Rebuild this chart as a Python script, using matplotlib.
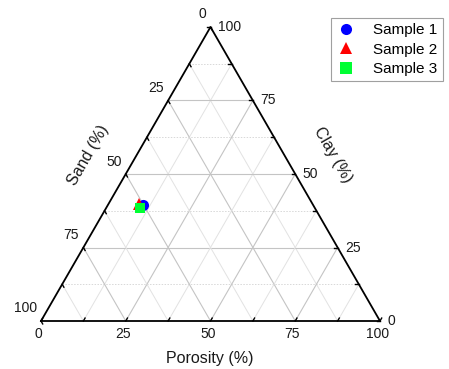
import numpy as np
import matplotlib
matplotlib.use("Agg")
import matplotlib.pyplot as plt

plt.rcParams["font.family"] = ["Liberation Sans", "DejaVu Sans"]

# sample compositions (%)
samples = ["Sample 1", "Sample 2", "Sample 3"]
porosity = [10.4, 9.2, 10.1]
sand = [50.1, 51.1, 51.6]
clay = [39.5, 39.7, 38.3]
markers = ["o", "^", "s"]
colors = ["#0000ff", "#ff0000", "#00ff33"]
sizes = [8, 8, 7]

tick_vals = [0, 25, 50, 75, 100]
grid_step = 12.5

H = np.sqrt(3) / 2


def to_xy(p, c):
    # porosity -> bottom-right, clay -> top, sand -> bottom-left
    p = np.asarray(p, dtype=float)
    c = np.asarray(c, dtype=float)
    return p + c / 2, c * H


W, Hpx = 449, 369
fig = plt.figure(figsize=(W / 100, Hpx / 100), dpi=100)
ax = fig.add_axes([41 / W, 48 / Hpx, 339 / W, 294 / Hpx])
ax.set_xlim(0, 100)
ax.set_ylim(0, 100 * H)
ax.axis("off")

# grid
for v in np.arange(grid_step, 100, grid_step):
    major = abs(v % 25) < 1e-9
    if major:
        kw = dict(color="#c4c4c4", lw=0.8)
        kh = kw
    else:
        kw = dict(color="#e2e2e2", lw=0.7)
        kh = dict(color="#d8d8d8", lw=0.7, ls=(0, (1.5, 1.5)))
    # constant porosity
    x, y = to_xy([v, v], [0, 100 - v])
    ax.plot(x, y, zorder=1, **kw)
    # constant clay
    x, y = to_xy([0, 100 - v], [v, v])
    ax.plot(x, y, zorder=1, **kh)
    # constant sand
    x, y = to_xy([100 - v, 0], [0, 100 - v])
    ax.plot(x, y, zorder=1, **kw)

# frame
x, y = to_xy([0, 100, 0, 0], [0, 0, 100, 0])
ax.plot(x, y, color="black", lw=1.3, zorder=3, clip_on=False, solid_joinstyle="miter")

# ticks along grid directions
tl = 1.0
for v in np.arange(0, 100.01, grid_step):
    x, y = to_xy([v, v], [0, tl])
    ax.plot(x, y, color="black", lw=1.0, zorder=3, clip_on=False)
    x, y = to_xy([100 - v, 100 - v - tl], [v, v])
    ax.plot(x, y, color="black", lw=1.0, zorder=3, clip_on=False)
    x, y = to_xy([0, tl], [100 - v, 100 - v - tl])
    ax.plot(x, y, color="black", lw=1.0, zorder=3, clip_on=False)

fs_tick = 10
for v in tick_vals:
    # porosity (bottom)
    x, y = to_xy(v, 0)
    ax.annotate(str(v), (x, y), xytext=(-2, -9), textcoords="offset points",
                ha="center", va="center", fontsize=fs_tick, color="#1a1a1a")
    # clay (right)
    x, y = to_xy(100 - v, v)
    ax.annotate(str(v), (x, y), xytext=(5.5, 0), textcoords="offset points",
                ha="left", va="center", fontsize=fs_tick, color="#1a1a1a")
    # sand (left)
    x, y = to_xy(0, 100 - v)
    ax.annotate(str(v), (x, y), xytext=(-3, 9), textcoords="offset points",
                ha="right", va="center", fontsize=fs_tick, color="#1a1a1a")

# data
for name, p, c, m, col, ms in zip(samples, porosity, clay, markers, colors, sizes):
    x, y = to_xy(p, c)
    ax.plot(x, y, marker=m, color=col, ms=ms, ls="none", label=name, zorder=5,
            markeredgewidth=0)

# axis titles
fs_title = 11.5
fig.text(210 / W, 1 - 358 / Hpx, "Porosity (%)", ha="center", va="center", fontsize=fs_title, color="#1a1a1a")
fig.text(88 / W, 1 - 155 / Hpx, "Sand (%)", ha="center", va="center", rotation=60,
         rotation_mode="anchor", fontsize=fs_title, color="#1a1a1a")
fig.text(333 / W, 1 - 155 / Hpx, "Clay (%)", ha="center", va="center", rotation=-60,
         rotation_mode="anchor", fontsize=fs_title, color="#1a1a1a")

leg = fig.legend(loc="upper left", bbox_to_anchor=(331 / W, 1 - 18 / Hpx), fontsize=11,
                 frameon=True, fancybox=False, edgecolor="#a0a0a0", framealpha=1,
                 handlelength=1.2, handletextpad=1.2, labelspacing=0.35,
                 borderpad=0.35, borderaxespad=0, numpoints=1)
leg.get_frame().set_linewidth(0.8)
for line in leg.get_lines():
    line.set_markersize(8)

fig.savefig("out.png", dpi=100)
